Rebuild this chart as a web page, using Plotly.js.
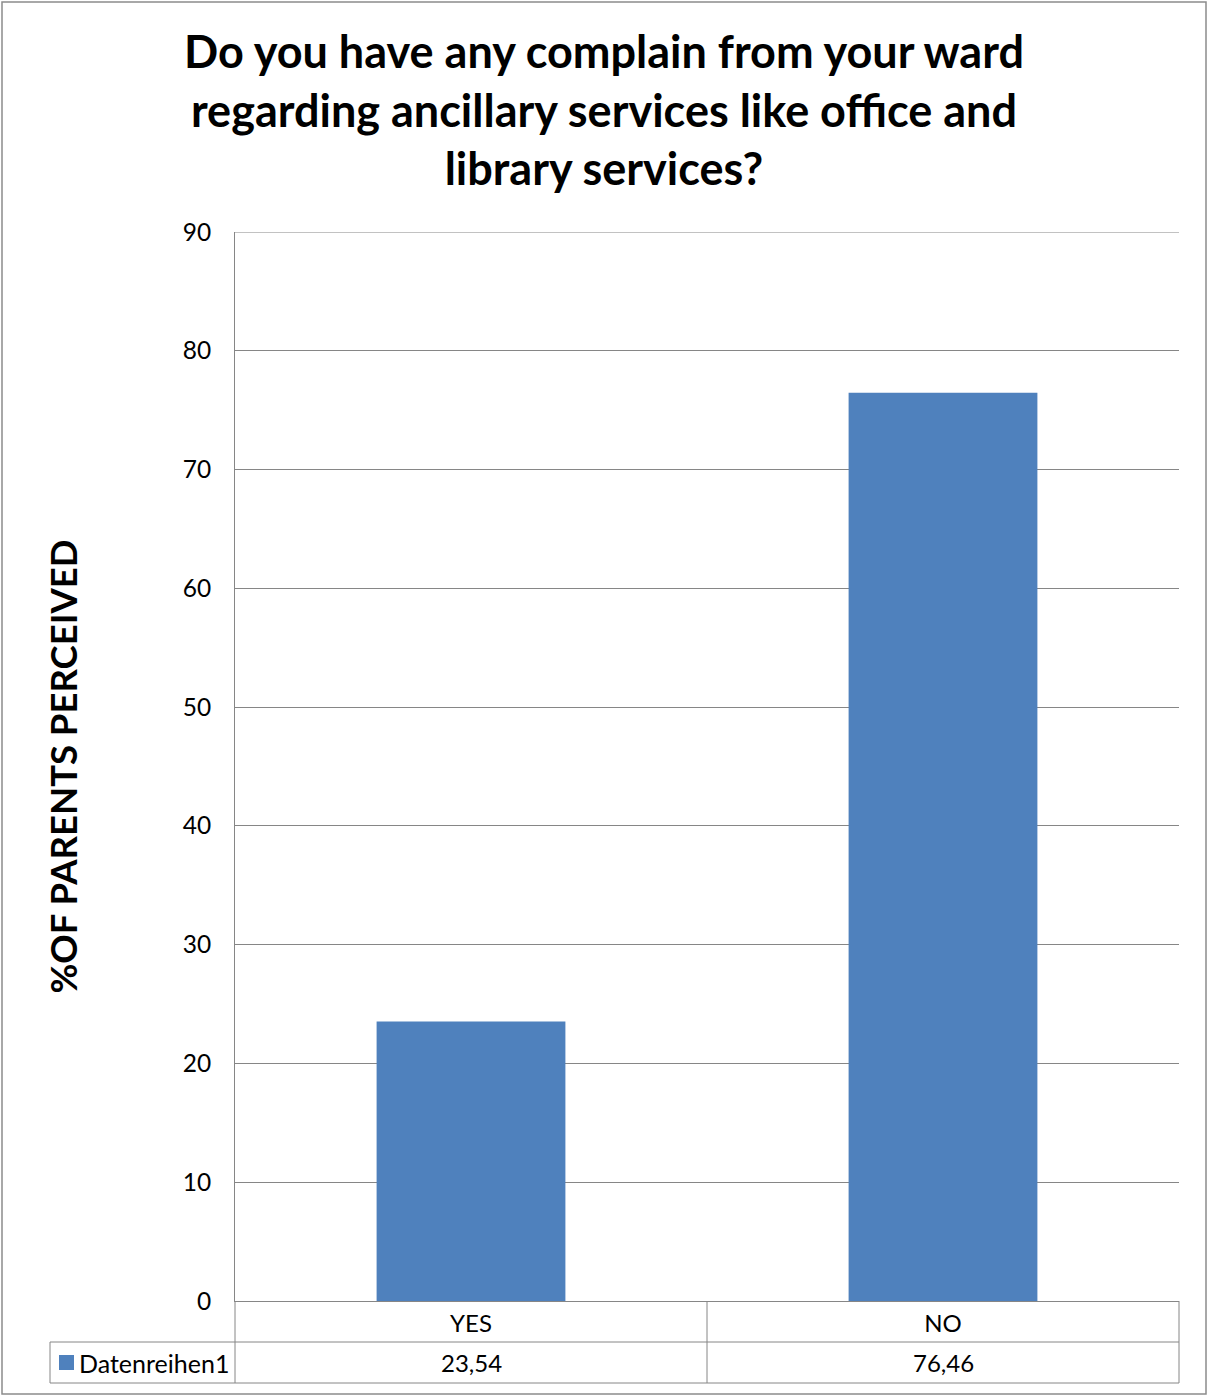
<!DOCTYPE html>
<html>
<head>
<meta charset="utf-8">
<script src="https://cdn.plot.ly/plotly-3.0.1.min.js"></script>
<style>html,body{margin:0;padding:0;background:#fff;}#chart{width:1208px;height:1396px;}</style>
</head>
<body>
<div id="chart"></div>
<script>
const categories = ["YES", "NO"];
const values = [23.54, 76.46];
const seriesName = "Datenreihen1";
const yTicks = [0, 10, 20, 30, 40, 50, 60, 70, 80, 90];
const titleText = "Do you have any complain from your ward<br>regarding ancillary services like office and<br>library services?";
const yTitle = "%OF PARENTS PERCEIVED";

const W = 1208, H = 1396;
const L = 235, R = 1179, T = 232, B = 1301;
const px = x => (x - L) / (R - L);
const py = y => (B - y) / (B - T);
const grid = "#868686";
const barColor = "#4F81BD";
const font = "Lato, 'Open Sans', sans-serif";

const fmt = v => v.toFixed(2).replace('.', ',');

const shapes = [
  // outer chart border
  {type: 'rect', xref: 'paper', yref: 'paper', x0: px(2), x1: px(1206), y0: py(1394), y1: py(2), line: {color: '#8c8c8c', width: 1.5}, layer: 'below'},
  // top gridline (at axis maximum)
  {type: 'line', xref: 'paper', yref: 'y', x0: 0, x1: 1, y0: yTicks[yTicks.length - 1], y1: yTicks[yTicks.length - 1], line: {color: grid, width: 1}},
  // data table lines
  {type: 'line', xref: 'paper', yref: 'paper', x0: px(50), x1: 1, y0: py(1342), y1: py(1342), line: {color: grid, width: 1}},
  {type: 'line', xref: 'paper', yref: 'paper', x0: px(50), x1: 1, y0: py(1383), y1: py(1383), line: {color: grid, width: 1}},
  {type: 'line', xref: 'paper', yref: 'paper', x0: px(50), x1: px(50), y0: py(1342), y1: py(1383), line: {color: grid, width: 1}},
  {type: 'line', xref: 'paper', yref: 'paper', x0: 0, x1: 0, y0: 0, y1: py(1383), line: {color: grid, width: 1}},
  {type: 'line', xref: 'paper', yref: 'paper', x0: 0.5, x1: 0.5, y0: 0, y1: py(1383), line: {color: grid, width: 1}},
  {type: 'line', xref: 'paper', yref: 'paper', x0: 1, x1: 1, y0: 0, y1: py(1383), line: {color: grid, width: 1}},
  // legend key in the data table
  {type: 'rect', xref: 'paper', yref: 'paper', x0: px(59), x1: px(74), y0: py(1370), y1: py(1355), fillcolor: barColor, line: {width: 0}}
];

const annotations = categories.map((c, i) => ({
  x: c, xref: 'x', yref: 'paper', y: py(1362.5), yanchor: 'middle', xanchor: 'center',
  text: fmt(values[i]), showarrow: false, font: {family: font, size: 24, color: '#000'}
}));
annotations.push({
  x: px(77), xref: 'paper', yref: 'paper', y: py(1362.5), yanchor: 'middle', xanchor: 'left',
  text: seriesName, showarrow: false, font: {family: font, size: 25, color: '#000'}
});

const data = [{
  type: 'bar', x: categories, y: values, name: seriesName,
  marker: {color: barColor}, showlegend: false, hoverinfo: 'none'
}];

const layout = {
  width: W, height: H,
  margin: {l: L, r: W - R, t: T, b: H - B, pad: 0},
  paper_bgcolor: '#fff', plot_bgcolor: '#fff',
  font: {family: font, color: '#000'},
  bargap: 0.6,
  showlegend: false,
  title: {
    text: titleText, x: 0.5, xref: 'container', xanchor: 'center',
    y: 1 - 68 / H, yref: 'container', yanchor: 'top',
    font: {family: font, size: 45, color: '#000', weight: 'bold'}
  },
  xaxis: {
    type: 'category', showgrid: false, zeroline: false, showline: true,
    linecolor: grid, linewidth: 1, ticks: '', tickfont: {family: font, size: 24, color: '#000'},
    ticklabelstandoff: 1, fixedrange: true
  },
  yaxis: {
    range: [0, 90], tickvals: yTicks, ticktext: yTicks.map(String),
    showgrid: true, gridcolor: grid, gridwidth: 1, zeroline: false,
    showline: true, linecolor: grid, linewidth: 1, ticks: '',
    tickfont: {family: font, size: 24.5, color: '#000'}, ticklabelstandoff: 18,
    title: {text: yTitle, font: {family: font, size: 36.5, color: '#000', weight: 'bold'}, standoff: 93},
    fixedrange: true
  },
  shapes: shapes,
  annotations: annotations
};

Plotly.newPlot('chart', data, layout, {displayModeBar: false, staticPlot: true});
</script>
</body>
</html>
